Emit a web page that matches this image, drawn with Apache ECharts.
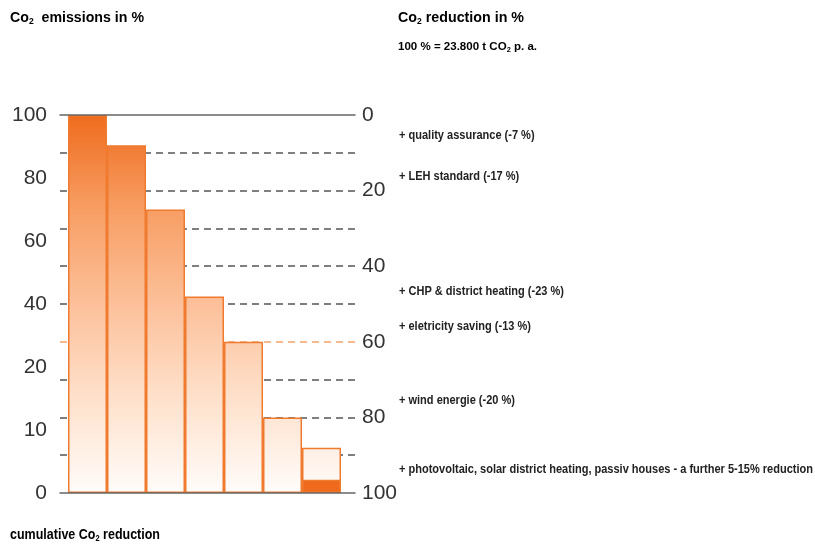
<!DOCTYPE html>
<html>
<head>
<meta charset="utf-8">
<script src="https://cdn.jsdelivr.net/npm/echarts@6/dist/echarts.min.js"></script>
<style>html,body{margin:0;padding:0;background:#fff}#c{width:815px;height:544px}</style>
</head>
<body>
<div id="c"></div>
<script>
// ---- data ----
const categories = ['start', 'quality assurance', 'LEH standard', 'CHP & district heating', 'eletricity saving', 'wind energie', 'further'];
const emissions = [100, 92, 75, 52, 40, 20, 12];
const remaining = [null, null, null, null, null, null, 3.5];
const leftTickLabels = ['0', '10', '20', '40', '60', '80', '100'];
const rightTickLabels = ['0', '20', '40', '60', '80', '100'];
const annotationTexts = [
  '+ quality assurance (-7 %)',
  '+ LEH standard (-17 %)',
  '+ CHP & district heating (-23 %)',
  '+ eletricity saving (-13 %)',
  '+ wind energie (-20 %)',
  '+ photovoltaic, solar district heating, passiv houses - a further 5-15% reduction'
];
const annotationY = [136, 177, 292, 327, 401, 470];

const chart = echarts.init(document.getElementById('c'), null, {renderer: 'canvas'});
const FONT = '"Liberation Sans", Arial, sans-serif';
const gray = '#555';
const orange = '#f07a2e';

const mctx = document.createElement('canvas').getContext('2d');
function measure(segs) {
  let w = 0;
  segs.forEach(s => { mctx.font = s[1]; w += mctx.measureText(s[0]).width; });
  return w;
}

const gradient = {
  type: 'linear', x: 0, y: 115, x2: 0, y2: 493, global: true,
  colorStops: [
    {offset: 0, color: '#ef6c1e'},
    {offset: 0.25, color: '#f79e64'},
    {offset: 0.5, color: '#fcc09a'},
    {offset: 0.75, color: '#fee1cc'},
    {offset: 1, color: '#fffcfa'}
  ]
};

// inner split lines only (10..90); the 60 line is orange
const splitColors = [];
for (let v = 10; v <= 90; v += 10) splitColors.push(v === 60 ? '#f5a46a' : gray);

function titleEl(x, y, parts, size, subSize, targetW) {
  const bigF = 'bold ' + size + 'px ' + FONT;
  const subF = 'bold ' + subSize + 'px ' + FONT;
  const w = measure(parts.map(p => [p[0], p[1] ? subF : bigF]));
  const txt = parts.map(p => (p[1] ? '{s|' : '{a|') + p[0] + '}').join('');
  return {
    type: 'text', x: x, y: y, scaleX: targetW / w, originX: 0, originY: 0,
    style: {
      text: txt, verticalAlign: 'middle',
      rich: {
        a: {fontSize: size, fontWeight: 'bold', color: '#333', fontFamily: FONT},
        s: {fontSize: subSize, fontWeight: 'bold', color: '#333', fontFamily: FONT, padding: [Math.round(size * 0.5), 0, 0, 0]}
      }
    }
  };
}

const graphics = [
  titleEl(10, 18, [['Co', false], ['2', true], ['  emissions in %', false]], 15, 9, 134),
  titleEl(398, 18, [['Co', false], ['2', true], [' reduction in %', false]], 15, 9, 126),
  titleEl(398, 47, [['100 % = 23.800 t CO', false], ['2', true], [' p. a.', false]], 11, 7, 139),
  titleEl(10, 535, [['cumulative Co', false], ['2', true], [' reduction', false]], 15, 9, 150)
];

const annFont = 'bold 12px ' + FONT;
const annScale = 414 / measure([[annotationTexts[annotationTexts.length - 1], annFont]]);
annotationTexts.forEach((t, i) => {
  graphics.push({
    type: 'text', x: 399, y: annotationY[i], scaleX: annScale, originX: 0, originY: 0,
    style: {text: t, font: annFont, fill: '#222', verticalAlign: 'middle'}
  });
});

const solidAxis = (gi) => ({
  gridIndex: gi, type: 'value', min: 0, max: 1, position: 'bottom', z: 5,
  axisLine: {show: true, onZero: false, lineStyle: {color: '#666', width: 1.5}},
  axisTick: {show: false}, axisLabel: {show: false}, splitLine: {show: false}
});

chart.setOption({
  animation: false,
  backgroundColor: '#fff',
  grid: [
    {left: 60, right: 460, top: 115, bottom: 51},
    {left: 68, right: 474, top: 115, bottom: 51},
    {left: 60, right: 460, top: 15, height: 100}
  ],
  xAxis: [
    solidAxis(0),
    solidAxis(2),
    {gridIndex: 1, type: 'category', data: categories, show: false, boundaryGap: true}
  ],
  yAxis: [
    {gridIndex: 0, type: 'value', position: 'right', inverse: true, min: 0, max: 100, interval: 10,
      axisLine: {show: false}, axisTick: {show: false},
      axisLabel: {margin: 7, fontSize: 21, color: '#333', fontFamily: FONT,
        formatter: v => rightTickLabels.indexOf(String(v)) >= 0 ? String(v) : ''},
      splitLine: {show: true, showMinLine: false, showMaxLine: false,
        lineStyle: {color: splitColors, type: [7, 5], width: 1.5}}},
    {gridIndex: 0, type: 'value', position: 'left', min: 0, max: leftTickLabels.length - 1, interval: 1,
      axisLine: {show: false}, axisTick: {show: false}, splitLine: {show: false},
      axisLabel: {margin: 13, fontSize: 21, color: '#333', fontFamily: FONT,
        formatter: v => leftTickLabels[v]}},
    {gridIndex: 1, type: 'value', min: 0, max: 100, show: false},
    {gridIndex: 2, type: 'value', min: 0, max: 1, show: false}
  ],
  series: [
    {type: 'bar', xAxisIndex: 2, yAxisIndex: 2, data: emissions, barCategoryGap: 0, barGap: '-100%',
      itemStyle: {color: gradient, borderColor: orange, borderWidth: 1.5}},
    {type: 'bar', xAxisIndex: 2, yAxisIndex: 2, data: remaining, barCategoryGap: 0, barGap: '-100%',
      itemStyle: {color: '#ef6a1c', borderColor: orange, borderWidth: 1.5}}
  ],
  graphic: graphics
});
</script>
</body>
</html>
